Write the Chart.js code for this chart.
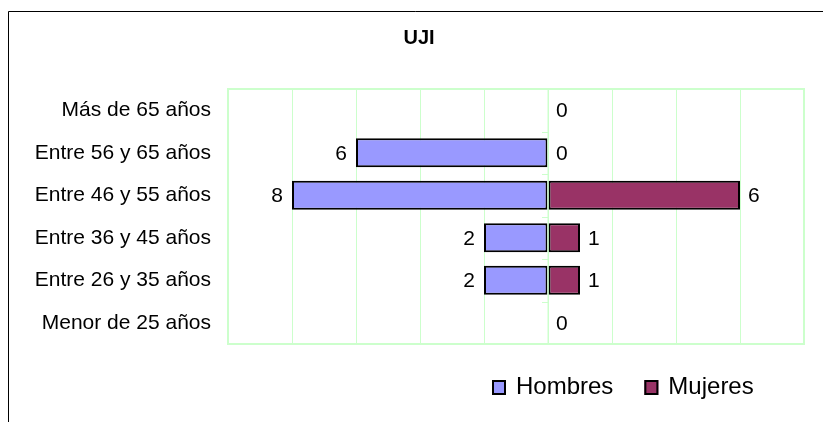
<!DOCTYPE html>
<html>
<head>
<meta charset="utf-8">
<script src="https://cdn.jsdelivr.net/npm/chart.js@4.4.0/dist/chart.umd.min.js"></script>
<style>
  html, body { margin: 0; padding: 0; background: #fff; }
</style>
</head>
<body>
<canvas id="chart" width="823" height="422"></canvas>
<script>
// Dades del grafic
const categorias = ['Más de 65 años', 'Entre 56 y 65 años', 'Entre 46 y 55 años', 'Entre 36 y 45 años', 'Entre 26 y 35 años', 'Menor de 25 años'];
const hombres = [0, 6, 8, 2, 2, 0];
const mujeres = [0, 0, 6, 1, 1, 0];
const series = ['Hombres', 'Mujeres'];
const colores = ['#9999FF', '#993366'];
const ejeMin = -10, ejeMax = 8, ejePaso = 2;

const verdeClaro = '#ccffcc';
const fuente = "'Liberation Sans', Arial, sans-serif";
Chart.defaults.font.family = fuente;
Chart.defaults.color = '#000';

// Marc exterior, vora de l'area i linia central
const decoracio = {
  id: 'decoracio',
  beforeDraw(chart) {
    const ctx = chart.ctx;
    ctx.save();
    ctx.fillStyle = '#fff';
    ctx.fillRect(0, 0, chart.width, chart.height);
    ctx.strokeStyle = '#000';
    ctx.lineWidth = 1;
    ctx.beginPath();
    ctx.moveTo(8.5, chart.height);
    ctx.lineTo(8.5, 11.5);
    ctx.lineTo(chart.width, 11.5);
    ctx.stroke();
    ctx.restore();
  },
  beforeDatasetsDraw(chart) {
    const { left, right, top, bottom } = chart.chartArea;
    const ctx = chart.ctx;
    ctx.save();
    ctx.strokeStyle = verdeClaro;
    ctx.lineWidth = 2;
    ctx.strokeRect(left, top, right - left, bottom - top);
    ctx.restore();
  },
  afterDatasetsDraw(chart) {
    const ctx = chart.ctx;
    const xs = chart.scales.x, ys = chart.scales.y;
    const x0 = xs.getPixelForValue(0);
    const { top, bottom } = chart.chartArea;
    ctx.save();
    ctx.strokeStyle = verdeClaro;
    ctx.lineWidth = 1;
    ctx.beginPath();
    ctx.moveTo(x0, top);
    ctx.lineTo(x0, bottom);
    for (let i = 0; i < categorias.length - 1; i++) {
      const y = Math.round((ys.getPixelForValue(i) + ys.getPixelForValue(i + 1)) / 2) + 0.5;
      ctx.moveTo(x0 - 6, y);
      ctx.lineTo(x0, y);
    }
    ctx.stroke();

    // Etiquetes de valor (homes a l'esquerra, dones a la dreta)
    ctx.font = '21px ' + fuente;
    ctx.fillStyle = '#000';
    ctx.textBaseline = 'middle';
    categorias.forEach((c, i) => {
      const y = ys.getPixelForValue(i) + 1;
      if (hombres[i] !== 0) {
        ctx.textAlign = 'right';
        ctx.fillText(String(hombres[i]), xs.getPixelForValue(-hombres[i]) - 9, y);
      }
      ctx.textAlign = 'left';
      ctx.fillText(String(mujeres[i]), xs.getPixelForValue(mujeres[i]) + 8, y);
    });
    ctx.restore();
  },
  afterDraw(chart) {
    // Llegenda
    const ctx = chart.ctx;
    ctx.save();
    ctx.font = '24px ' + fuente;
    ctx.textBaseline = 'middle';
    ctx.textAlign = 'left';
    let x = 492;
    const y = 387;
    chart.data.datasets.forEach((ds) => {
      ctx.fillStyle = ds.backgroundColor;
      ctx.fillRect(x, y - 7, 14, 15);
      ctx.strokeStyle = '#000';
      ctx.lineWidth = 2;
      ctx.strokeRect(x + 1, y - 6, 12, 13);
      ctx.fillStyle = '#000';
      ctx.fillText(ds.label, x + 24, y);
      x += 24 + ctx.measureText(ds.label).width + 31;
    });
    ctx.restore();
  }
};

const chart = new Chart(document.getElementById('chart'), {
  type: 'bar',
  data: {
    labels: categorias,
    datasets: [
      {
        label: series[0],
        data: hombres.map(v => -v),
        backgroundColor: colores[0],
        borderColor: '#000',
        borderWidth: 2,
        borderSkipped: false
      },
      {
        label: series[1],
        data: mujeres,
        backgroundColor: colores[1],
        borderColor: '#000',
        borderWidth: 2,
        borderSkipped: false
      }
    ]
  },
  options: {
    indexAxis: 'y',
    responsive: false,
    animation: false,
    layout: { padding: { left: 34, right: 19, top: 0, bottom: 0 } },
    datasets: { bar: { barPercentage: 0.68, categoryPercentage: 1 } },
    scales: {
      x: {
        stacked: true,
        min: ejeMin,
        max: ejeMax,
        ticks: { display: false, stepSize: ejePaso },
        grid: { color: verdeClaro, drawTicks: false, lineWidth: 1 },
        border: { display: false },
        afterFit: s => { s.height = 78; }
      },
      y: {
        stacked: true,
        grid: { display: false, drawTicks: false },
        border: { display: false },
        ticks: { font: { size: 21 }, color: '#000', padding: 17 },
        afterFit: s => { s.width = 194; }
      }
    },
    plugins: {
      legend: { display: false },
      tooltip: { enabled: false },
      title: {
        display: true,
        text: 'UJI',
        color: '#000',
        font: { size: 20, weight: 'bold' },
        padding: { top: 26, bottom: 39 }
      }
    }
  },
  plugins: [decoracio]
});
</script>
</body>
</html>
